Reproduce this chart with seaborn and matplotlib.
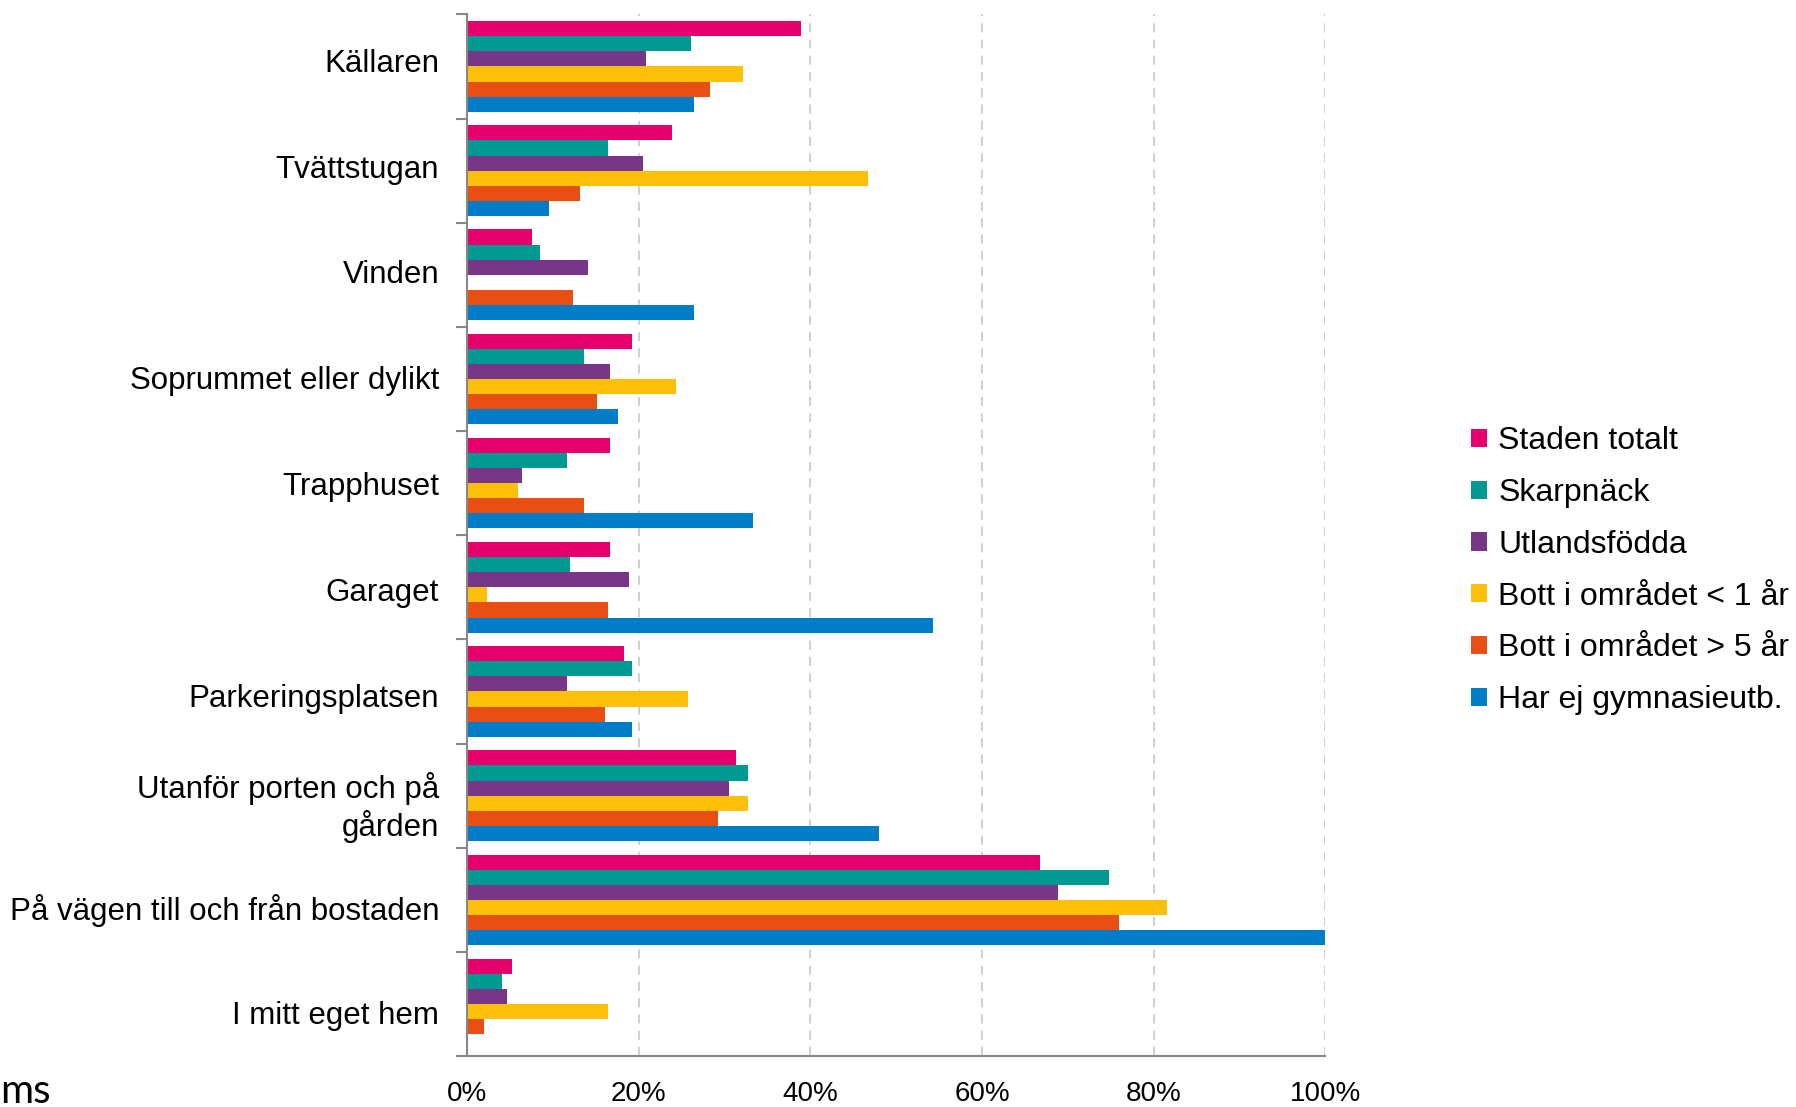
import matplotlib
matplotlib.use("Agg")
import matplotlib.pyplot as plt
import seaborn as sns
import pandas as pd
from matplotlib.ticker import FixedLocator, PercentFormatter

categories = ["Källaren", "Tvättstugan", "Vinden", "Soprummet eller dylikt", "Trapphuset",
              "Garaget", "Parkeringsplatsen", "Utanför porten och på\ngården",
              "På vägen till och från bostaden", "I mitt eget hem"]
series = ["Staden totalt", "Skarpnäck", "Utlandsfödda", "Bott i området < 1 år",
          "Bott i området > 5 år", "Har ej gymnasieutb."]
colors = ["#E6006E", "#009A93", "#773688", "#FCC00A", "#E94F12", "#007DC6"]

staden = [38.9, 23.9, 7.6, 19.2, 16.7, 16.7, 18.3, 31.3, 66.7, 5.2]
skarpnack = [26.1, 16.4, 8.5, 13.6, 11.7, 12.0, 19.2, 32.7, 74.8, 4.1]
utlandsfodda = [20.8, 20.5, 14.1, 16.7, 6.4, 18.9, 11.7, 30.5, 68.8, 4.7]
bott_lt1 = [32.1, 46.7, 0.0, 24.4, 5.9, 2.3, 25.7, 32.7, 81.6, 16.4]
bott_gt5 = [28.3, 13.2, 12.4, 15.1, 13.6, 16.4, 16.1, 29.2, 76.0, 2.0]
ej_gymn = [26.4, 9.5, 26.4, 17.6, 33.3, 54.3, 19.2, 48.0, 100.0, 0.0]
values = [staden, skarpnack, utlandsfodda, bott_lt1, bott_gt5, ej_gymn]
xticks = [0, 20, 40, 60, 80, 100]

rows = []
for s, vals in zip(series, values):
    for c, v in zip(categories, vals):
        rows.append({"Kategori": c, "Grupp": s, "Andel": v})
df = pd.DataFrame(rows)

sns.set_style("white")
plt.rcParams["font.family"] = ["Liberation Sans", "DejaVu Sans"]
plt.rcParams["text.color"] = "black"
plt.rcParams["xtick.color"] = "black"
plt.rcParams["ytick.color"] = "black"

fig = plt.figure(figsize=(17.96, 11.07), dpi=100)
ax = fig.add_axes([0.26, 0.046, 0.478, 0.941])

sns.barplot(data=df, y="Kategori", x="Andel", hue="Grupp", order=categories,
            hue_order=series, palette=colors, orient="h", width=0.87,
            saturation=1, ax=ax, errorbar=None, linewidth=0)

n = len(categories)
ax.set_xlim(0, 100)
ax.set_ylim(n - 0.5, -0.5)
ax.xaxis.set_major_locator(FixedLocator(xticks))
ax.xaxis.set_major_formatter(PercentFormatter(decimals=0))
ax.grid(axis="x", color="#CCCCCC", linestyle=(0, (5, 4)), linewidth=1.3)
ax.set_axisbelow(True)
ax.set_xlabel("")
ax.set_ylabel("")

# label positions as laid out in the reference (slightly wider spacing than the groups)
label_pos = [-0.06 + i * 1.016 for i in range(n)]
ax.set_yticks(label_pos, labels=categories)

for side in ["top", "right"]:
    ax.spines[side].set_visible(False)
for side in ["left", "bottom"]:
    ax.spines[side].set_color("#888888")
    ax.spines[side].set_linewidth(1.5)

ax.tick_params(axis="y", which="major", length=0, pad=20, labelsize=22.5, labelcolor="black")
ax.yaxis.set_minor_locator(FixedLocator([i - 0.5 for i in range(n + 1)]))
ax.tick_params(axis="y", which="minor", length=8, width=1.5, color="#888888", left=True)
ax.tick_params(axis="x", length=0, pad=18, labelsize=20, labelcolor="black")
for lbl in ax.get_yticklabels():
    lbl.set_horizontalalignment("right")
    lbl.set_multialignment("right")

handles, labels = ax.get_legend_handles_labels()
ax.legend(handles, labels, loc="center left", bbox_to_anchor=(1.155, 0.466), frameon=False,
          fontsize=23, handlelength=0.5, handleheight=0.5, handletextpad=0.35,
          labelspacing=0.68, borderaxespad=0)

fig.text(0.0, 0.004, "ms", fontsize=29, family=["Lato", "DejaVu Sans"],
         ha="left", va="baseline", color="black")

fig.savefig("out.png", dpi=100)
